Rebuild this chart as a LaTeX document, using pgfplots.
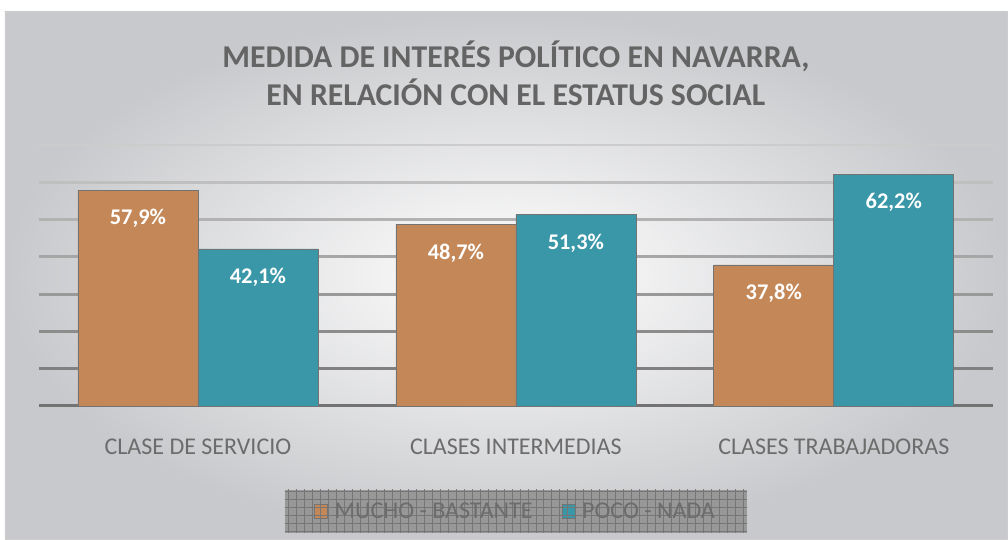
\documentclass[border=0pt]{standalone}
\usepackage{pgfplots}
\pgfplotsset{compat=1.18}
\usepackage{fontspec}
\setmainfont{Carlito}
\usetikzlibrary{patterns.meta}
\definecolor{barorange}{RGB}{196,136,88}
\definecolor{barteal}{RGB}{58,151,168}
\definecolor{titlegray}{RGB}{100,100,100}
\definecolor{labgray}{RGB}{108,108,108}
\definecolor{leggray}{RGB}{152,152,152}
\begin{document}
\begin{tikzpicture}
\path[fill=white] (0,0) rectangle (756pt,404.25pt);
\shade[inner color=white, outer color={rgb,255:red,200;green,201;blue,204}, draw={rgb,255:red,205;green,205;blue,205}]
  (3.75pt,0) rectangle (756pt,395.25pt);
\node[align=center, text=titlegray, font=\bfseries\fontsize{23.8}{28.5}\selectfont]
  at (387pt,349.5pt) {MEDIDA DE INTERÉS POLÍTICO EN NAVARRA,\\EN RELACIÓN CON EL ESTATUS SOCIAL};
\begin{axis}[
  at={(29.25pt,99.75pt)}, anchor=south west,
  scale only axis, width=715.5pt, height=195.75pt,
  xmin=-0.5, xmax=2.5, ymin=0, ymax=70,
  axis line style={draw=none},
  ytick=\empty, yticklabels={},
  xtick={0,1,2}, xticklabels={CLASE DE SERVICIO, CLASES INTERMEDIAS, CLASES TRABAJADORAS},
  major tick length=0pt,
  xticklabel style={font=\fontsize{18}{20}\selectfont, text=labgray, yshift=-21pt},
  ybar=0pt, bar width=90pt,
  clip=false,
  /pgf/number format/assume math mode=true,
  nodes near coords={\pgfmathprintnumber[fixed, fixed zerofill, precision=1, use comma, assume math mode=true]{\pgfplotspointmeta}\%},
  every node near coord/.append style={anchor=center, yshift=-21.5pt, text=white, font=\bfseries\fontsize{16.8}{18}\selectfont},
  legend columns=2,
  legend style={at={(0.5,-0.404)}, anchor=center, draw=none, fill=leggray,
    postaction={pattern={Hatch[angle=0,distance=6pt,line width=0.55pt]}, pattern color={rgb,255:red,118;green,118;blue,118}},
    font=\fontsize{18}{20}\selectfont, text=labgray,
    inner xsep=22pt, inner ysep=7.5pt,
    /tikz/every odd column/.append style={column sep=3pt},
    /tikz/every even column/.append style={column sep=20pt}},
  legend image code/.code={\draw[#1] (0pt,-4.9pt) rectangle (9.75pt,4.9pt);},
]
\pgfplotsinvokeforeach{0,...,7}{
  \draw[line width=2.2pt, color=black!\the\numexpr 55-#1*5\relax] (axis cs:-0.5,#1*10) -- (axis cs:2.5,#1*10);
}
\addplot[fill=barorange, draw=black!55, line width=0.5pt] coordinates {(0,57.9) (1,48.7) (2,37.8)};
\addplot[fill=barteal, draw=black!55, line width=0.5pt] coordinates {(0,42.1) (1,51.3) (2,62.2)};
\legend{MUCHO - BASTANTE, POCO - NADA}
\end{axis}
\end{tikzpicture}
\end{document}
